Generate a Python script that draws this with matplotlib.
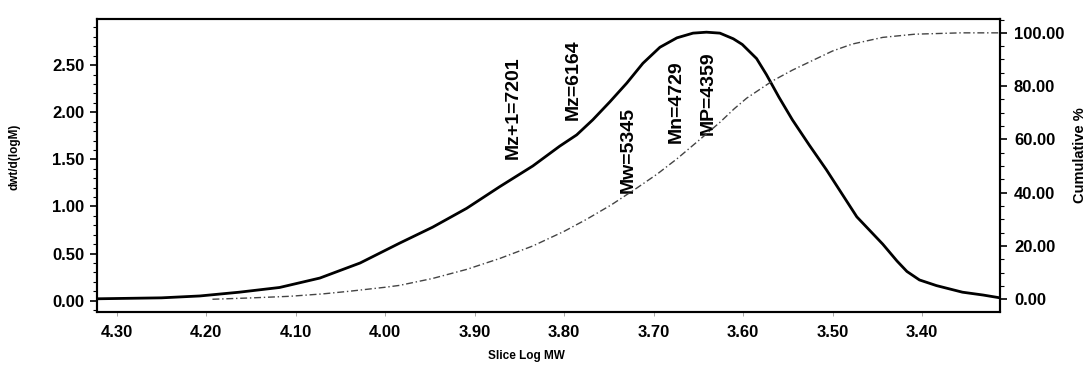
import matplotlib
matplotlib.use('Agg')
import matplotlib.pyplot as plt
from matplotlib.ticker import MultipleLocator, FormatStrFormatter
import numpy as np

plt.rcParams['font.family'] = ['Liberation Sans', 'DejaVu Sans']

# ------------------------------------------------
# dados
# ------------------------------------------------

# curva de distribuicao dwt/d(logM)
log_mw = [4.322, 4.25, 4.207, 4.163, 4.118, 4.073, 4.028, 3.984, 3.947, 3.909,
          3.872, 3.835, 3.805, 3.786, 3.768, 3.749, 3.730, 3.712, 3.693, 3.674,
          3.656, 3.641, 3.626, 3.611, 3.601, 3.585, 3.574, 3.560, 3.545, 3.526,
          3.507, 3.473, 3.444, 3.428, 3.417, 3.403, 3.384, 3.355, 3.332, 3.313]
dwt = [0.02, 0.03, 0.05, 0.09, 0.14, 0.24, 0.40, 0.61, 0.78, 0.98,
       1.21, 1.43, 1.64, 1.76, 1.92, 2.11, 2.31, 2.52, 2.69, 2.79,
       2.84, 2.85, 2.84, 2.78, 2.72, 2.57, 2.40, 2.16, 1.92, 1.65,
       1.39, 0.89, 0.60, 0.42, 0.31, 0.22, 0.16, 0.09, 0.06, 0.03]

# curva cumulativa (%)
log_mw_cum = [4.193, 4.150, 4.107, 4.070, 4.040, 4.000, 3.984, 3.947, 3.909, 3.872,
              3.835, 3.800, 3.775, 3.747, 3.719, 3.696, 3.674, 3.650, 3.626, 3.610,
              3.596, 3.567, 3.545, 3.522, 3.500, 3.478, 3.444, 3.408, 3.357, 3.313]
cumulativo = [0.0, 0.5, 1.1, 2.0, 3.0, 4.5, 5.2, 7.8, 11.2, 15.3,
              20.0, 25.5, 30.0, 35.5, 41.7, 47.0, 52.7, 59.5, 66.4, 71.5,
              75.5, 82.0, 86.0, 89.7, 93.2, 95.8, 98.3, 99.5, 100.0, 100.0]

# medias de massa molar
rotulos = ['Mz+1', 'Mz', 'Mw', 'Mn', 'MP']
massas = [7201, 6164, 5345, 4729, 4359]

# ticks do eixo x
x_ticks = [4.30, 4.20, 4.10, 4.00, 3.90, 3.80, 3.70, 3.60, 3.50, 3.40]

# altura (base) de cada rotulo, em unidades do eixo esquerdo
rotulo_y = [1.50, 1.92, 1.14, 1.67, 1.76]

# ------------------------------------------------
# figura
# ------------------------------------------------
fig = plt.figure(figsize=(10.87, 3.67), dpi=100)
ax = fig.add_axes([97 / 1087, 55.5 / 367, 903 / 1087, 292.5 / 367])
ax2 = ax.twinx()

ax.plot(log_mw, dwt, color='black', linewidth=2.0,
        solid_capstyle='round', solid_joinstyle='round')
ax2.plot(log_mw_cum, cumulativo, color='#444444', linewidth=1.0,
         linestyle=(0, (5, 2, 1, 2)))

for nome, m, yb in zip(rotulos, massas, rotulo_y):
    ax.text(np.log10(m), yb, f'{nome}={m}', rotation=90, ha='center', va='bottom',
            fontsize=14, fontweight='bold')

ax.set_xlim(4.322, 3.313)
ax.set_ylim(-0.115, 2.99)
ax2.set_ylim(-4.6, 105.2)

ax.set_xticks(x_ticks)
ax.xaxis.set_major_formatter(FormatStrFormatter('%.2f'))
ax.yaxis.set_major_locator(MultipleLocator(0.5))
ax.yaxis.set_minor_locator(MultipleLocator(0.1))
ax.yaxis.set_major_formatter(FormatStrFormatter('%.2f'))
ax2.yaxis.set_major_locator(MultipleLocator(20))
ax2.yaxis.set_minor_locator(MultipleLocator(5))
ax2.yaxis.set_major_formatter(FormatStrFormatter('%.2f'))

ax.tick_params(axis='y', which='major', length=5, width=1.2, pad=4, labelsize=12)
ax.tick_params(axis='y', which='minor', length=3, width=0.8)
ax.tick_params(axis='x', which='major', length=3, width=0.6, color='#999999',
               pad=7, labelsize=12)
ax2.tick_params(axis='y', which='major', length=5, width=1.2, pad=5, labelsize=12)
ax2.tick_params(axis='y', which='minor', length=3, width=0.8)

for lbl in ax.get_xticklabels() + ax.get_yticklabels() + ax2.get_yticklabels():
    lbl.set_fontweight('bold')

for a in (ax, ax2):
    for s in a.spines.values():
        s.set_linewidth(1.5)

ax.set_xlabel('Slice Log MW', fontsize=8.5, fontweight='bold')
ax.xaxis.set_label_coords(0.476, -0.13)
ax.set_ylabel('dwt/d(logM)', fontsize=8.5, fontweight='bold')
ax.yaxis.set_label_coords(-0.085, 0.528)
ax2.set_ylabel('Cumulative %', fontsize=10.5, fontweight='bold')
ax2.yaxis.set_label_coords(1.081, 0.535)

fig.savefig('out.png', dpi=100)
